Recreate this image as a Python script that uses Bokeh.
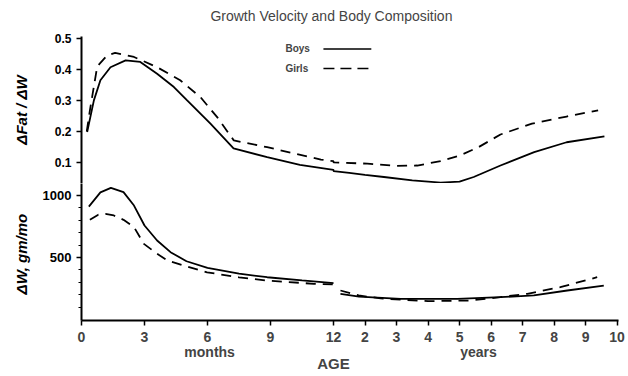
from bokeh.plotting import figure
from bokeh.layouts import column
from bokeh.models import Range1d, FixedTicker, LinearAxis, Label
from bokeh.embed import file_html
from bokeh.resources import INLINE

# ---------------- data ----------------
title_text = "Growth Velocity and Body Composition"

# Top panel: delta Fat / delta W
fat_boys_months = [0.27, 0.59, 0.9, 1.38, 2.1, 2.8, 3.6, 4.4, 5.03, 6.14, 7.24, 8.84, 10.4, 12.0]
fat_boys_m_vals = [0.198, 0.30, 0.365, 0.407, 0.429, 0.424, 0.386, 0.343, 0.30, 0.225, 0.145, 0.117, 0.092, 0.076]
fat_boys_years = [1.0, 1.5, 2.0, 2.6, 3.5, 4.4, 5.0, 5.45, 6.3, 7.37, 8.4, 9.6]
fat_boys_y_vals = [0.072, 0.066, 0.060, 0.053, 0.042, 0.035, 0.038, 0.053, 0.090, 0.133, 0.165, 0.184]

fat_girls_months = [0.25, 0.4, 0.75, 1.22, 1.6, 2.5, 3.6, 4.7, 5.67, 6.46, 7.25, 8.84, 11.4, 12.0]
fat_girls_m_vals = [0.20, 0.268, 0.41, 0.445, 0.453, 0.44, 0.407, 0.365, 0.31, 0.246, 0.171, 0.149, 0.109, 0.104]
fat_girls_years = [1.0, 2.07, 3.0, 3.66, 4.4, 5.0, 5.6, 6.3, 7.3, 8.4, 9.4]
fat_girls_y_vals = [0.100, 0.096, 0.089, 0.090, 0.104, 0.122, 0.149, 0.19, 0.225, 0.248, 0.268]

# Bottom panel: delta W, gm/mo
w_boys_months = [0.35, 0.9, 1.4, 2.0, 2.5, 3.0, 3.6, 4.24, 5.0, 6.0, 7.5, 8.84, 10.5, 12.0]
w_boys_m_vals = [911, 1025, 1062, 1027, 919, 758, 637, 543, 470, 417, 370, 341, 315, 293]
w_boys_years = [1.22, 1.81, 3.13, 4.93, 6.3, 7.36, 8.42, 9.58]
w_boys_y_vals = [207, 185, 167, 167, 180, 194, 234, 274]

w_girls_months = [0.4, 0.8, 1.14, 1.54, 2.0, 2.5, 2.97, 3.6, 4.08, 5.03, 5.98, 7.5, 8.84, 11.06, 12.0]
w_girls_m_vals = [804, 845, 852, 839, 804, 745, 610, 530, 476, 427, 381, 340, 314, 288, 283]
w_girls_years = [1.22, 1.8, 2.5, 4.0, 5.3, 6.1, 7.15, 8.2, 9.37]
w_girls_y_vals = [234, 194, 170, 148, 153, 175, 207, 261, 341]

month_ticks = [0, 3, 6, 9, 12]
month_labels = ["0", "3", "6", "9", "12"]
year_ticks = [2, 3, 4, 5, 6, 7, 8, 9, 10]
year_labels = ["2", "3", "4", "5", "6", "7", "8", "9", "10"]
fat_ticks = [0.1, 0.2, 0.3, 0.4, 0.5]
fat_labels = ["0.1", "0.2", "0.3", "0.4", "0.5"]
w_ticks = [500, 1000]
w_labels = ["500", "1000"]
w_minor = [100, 200, 300, 400, 600, 700, 800, 900]
series_names = ["Boys", "Girls"]

# x coordinate: months 0..12, then years 1..10 compressed onto the same axis
YEAR_SCALE = 1.5
def y2u(yr):
    return 12 + (yr - 1) * YEAR_SCALE

FONT = "Liberation Sans"
DASH = "10 7"
xr = Range1d(0, 25.57)

def style_y(ax, ticks, labels, minor=None, size="12px"):
    ax.ticker = FixedTicker(ticks=ticks, minor_ticks=minor or [])
    ax.major_label_overrides = {t: l for t, l in zip(ticks, labels)}
    ax.major_label_text_font = FONT
    ax.major_label_text_font_style = "bold"
    ax.major_label_text_font_size = size
    ax.major_label_text_color = "black"
    ax.axis_line_width = 2
    ax.axis_line_color = "black"
    ax.major_tick_in = 0
    ax.major_tick_out = 5
    ax.minor_tick_in = 0
    ax.minor_tick_out = 3
    ax.major_tick_line_width = 1.5
    ax.axis_label_text_font = FONT
    ax.axis_label_text_font_style = "bold italic"
    ax.axis_label_text_font_size = "15px"
    ax.axis_label_text_color = "black"

# ---------------- top figure ----------------
top = figure(width=628, height=183, x_range=xr, y_range=Range1d(0.032, 0.506),
             output_backend="svg", toolbar_location=None, x_axis_location=None,
             min_border_left=81, min_border_right=10, min_border_top=36, min_border_bottom=0,
             outline_line_color=None)
top.grid.visible = False
style_y(top.yaxis[0], fat_ticks, fat_labels, size="12px")
top.yaxis[0].axis_label = "\u0394Fat / \u0394W"
top.yaxis[0].axis_label_standoff = 22

# title, set as a single label on an otherwise invisible axis above the frame
title_pos = [11.9]
title_axis = LinearAxis(ticker=FixedTicker(ticks=title_pos, minor_ticks=[]),
                        major_label_overrides={title_pos[0]: title_text},
                        axis_line_color=None, major_tick_line_color=None, minor_tick_line_color=None,
                        major_tick_out=0, major_tick_in=0,
                        major_label_text_font=FONT, major_label_text_font_style="normal",
                        major_label_text_font_size="14px", major_label_standoff=13)
top.add_layout(title_axis, "above")

bx = fat_boys_months + [y2u(v) for v in fat_boys_years]
by = fat_boys_m_vals + fat_boys_y_vals
gx = fat_girls_months + [y2u(v) for v in fat_girls_years]
gy = fat_girls_m_vals + fat_girls_y_vals
top.line(bx, by, line_color="black", line_width=1.8)
top.line(gx, gy, line_color="black", line_width=1.8, line_dash=DASH)

# legend (label first, then line sample)
leg_x_text = 9.71
leg_x0, leg_x1 = 11.52, 13.8
leg_y = [0.466, 0.403]
for name, yy, dash in zip(series_names, leg_y, ["solid", "11 6"]):
    top.add_layout(Label(x=leg_x_text, y=yy, text=name, text_font=FONT,
                         text_font_style="bold", text_font_size="10px",
                         text_baseline="middle"))
    top.line([leg_x0, leg_x1], [yy, yy], line_color="black", line_width=1.5, line_dash=dash)

# ---------------- bottom figure ----------------
bot = figure(width=628, height=193, x_range=xr, y_range=Range1d(-8, 1097),
             output_backend="svg", toolbar_location=None,
             min_border_left=81, min_border_right=10, min_border_top=0, min_border_bottom=56,
             outline_line_color=None)
bot.grid.visible = False
style_y(bot.yaxis[0], w_ticks, w_labels, w_minor, size="13px")
bot.yaxis[0].axis_label = "\u0394W,  gm/mo"
bot.yaxis[0].axis_label_standoff = 10

xa = bot.xaxis[0]
tick_pos = month_ticks + [y2u(v) for v in year_ticks]
tick_lab = month_labels + year_labels
xa.ticker = FixedTicker(ticks=tick_pos, minor_ticks=[])
xa.major_label_overrides = {t: l for t, l in zip(tick_pos, tick_lab)}
xa.major_label_text_font = FONT
xa.major_label_text_font_style = "bold"
xa.major_label_text_font_size = "14px"
xa.major_label_standoff = 6
xa.axis_line_width = 2
xa.major_tick_in = 0
xa.major_tick_out = 5
xa.major_tick_line_width = 1.5

unit_pos = [6.1, y2u(5.6)]
unit_lab = ["months", "years"]
xa2 = LinearAxis(ticker=FixedTicker(ticks=unit_pos, minor_ticks=[]),
                 major_label_overrides={t: l for t, l in zip(unit_pos, unit_lab)},
                 axis_line_color=None, major_tick_line_color=None, minor_tick_line_color=None,
                 major_tick_out=0, major_tick_in=0,
                 major_label_text_font=FONT, major_label_text_font_style="bold",
                 major_label_text_font_size="14px", major_label_standoff=-1)
bot.add_layout(xa2, "below")

age_pos = [12.0]
age_lab = ["AGE"]
xa3 = LinearAxis(ticker=FixedTicker(ticks=age_pos, minor_ticks=[]),
                 major_label_overrides={t: l for t, l in zip(age_pos, age_lab)},
                 axis_line_color=None, major_tick_line_color=None, minor_tick_line_color=None,
                 major_tick_out=0, major_tick_in=0,
                 major_label_text_font=FONT, major_label_text_font_style="bold",
                 major_label_text_font_size="15px", major_label_standoff=-8)
bot.add_layout(xa3, "below")

bot.line(w_boys_months, w_boys_m_vals, line_color="black", line_width=1.8)
bot.line([y2u(v) for v in w_boys_years], w_boys_y_vals, line_color="black", line_width=1.8)
bot.line(w_girls_months, w_girls_m_vals, line_color="black", line_width=1.8, line_dash=DASH)
bot.line([y2u(v) for v in w_girls_years], w_girls_y_vals, line_color="black", line_width=1.8, line_dash=DASH)

p = column(top, bot, spacing=0)
open("out.html", "w").write(file_html(p, INLINE))
